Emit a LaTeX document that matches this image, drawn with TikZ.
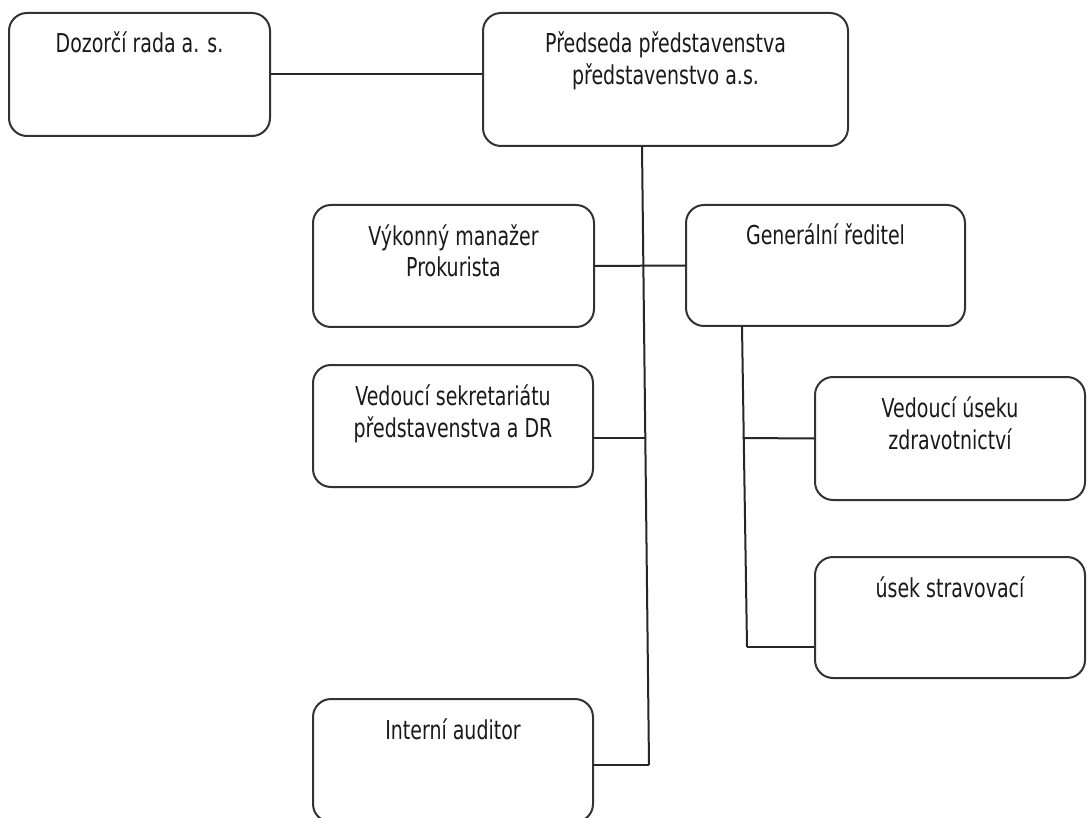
\documentclass[tikz,border=0pt]{standalone}
\usepackage{fontspec}
\setmainfont{DejaVu Sans}[FakeStretch=0.73]
\usetikzlibrary{calc}
\begin{document}
\begin{tikzpicture}[x=1pt,y=-1pt,
  orgbox/.style={draw=black!80, line width=2pt, rounded corners=18pt, inner sep=0pt, fill=white},
  lbl/.style={anchor=base, yshift=-41pt, align=center, font=\fontsize{26}{32}\selectfont, text=black!90, inner sep=0pt},
  lbltwo/.style={lbl, yshift=-32pt},
  conn/.style={draw=black!85, line width=2pt}]
\clip (0,0) rectangle (1087,818);
\fill[white] (0,0) rectangle (1087,818);
% boxes
\node[orgbox, minimum width=261pt, minimum height=123pt, label={[lbl]north:Dozorčí rada a. s.}] (D) at (139.5,74.5) {};
\node[orgbox, minimum width=365pt, minimum height=133pt, label={[lbltwo]north:{Předseda představenstva\\představenstvo a.s.}}] (P) at (665.5,79.5) {};
\node[orgbox, minimum width=281pt, minimum height=122pt, label={[lbltwo]north:{Výkonný manažer\\Prokurista}}] (V) at (453.5,266) {};
\node[orgbox, minimum width=279pt, minimum height=121pt, label={[lbl]north:Generální ředitel}] (G) at (825.5,265.5) {};
\node[orgbox, minimum width=280pt, minimum height=122pt, label={[lbltwo]north:{Vedoucí sekretariátu\\představenstva a DR}}] (S) at (453,426) {};
\node[orgbox, minimum width=270pt, minimum height=123pt, label={[lbltwo]north:{Vedoucí úseku\\zdravotnictví}}] (U) at (950,438.5) {};
\node[orgbox, minimum width=270pt, minimum height=121pt, label={[lbl]north:úsek stravovací}] (St) at (950,617.5) {};
\node[orgbox, minimum width=280pt, minimum height=123pt, label={[lbl]north:Interní auditor}] (I) at (453,760.5) {};
% connector points
\coordinate (tt) at (642,146);
\coordinate (tb) at (649,765);
\coordinate (ts) at (645,438);
\coordinate (gt) at (742,326);
\coordinate (gu) at (742.5,438);
\coordinate (gb) at (747,647);
% connectors
\draw[conn] (D.east) -- (D.east -| P.west);
\draw[conn] (tt) -- (tb);
\draw[conn] (V.east) -- (G.west);
\draw[conn] (S.east |- ts) -- (ts);
\draw[conn] (I.east |- tb) -- (tb);
\draw[conn] (gt) -- (gb);
\draw[conn] (gu) -- (U.west);
\draw[conn] (gb) -- (St.west |- gb);
\end{tikzpicture}
\end{document}
